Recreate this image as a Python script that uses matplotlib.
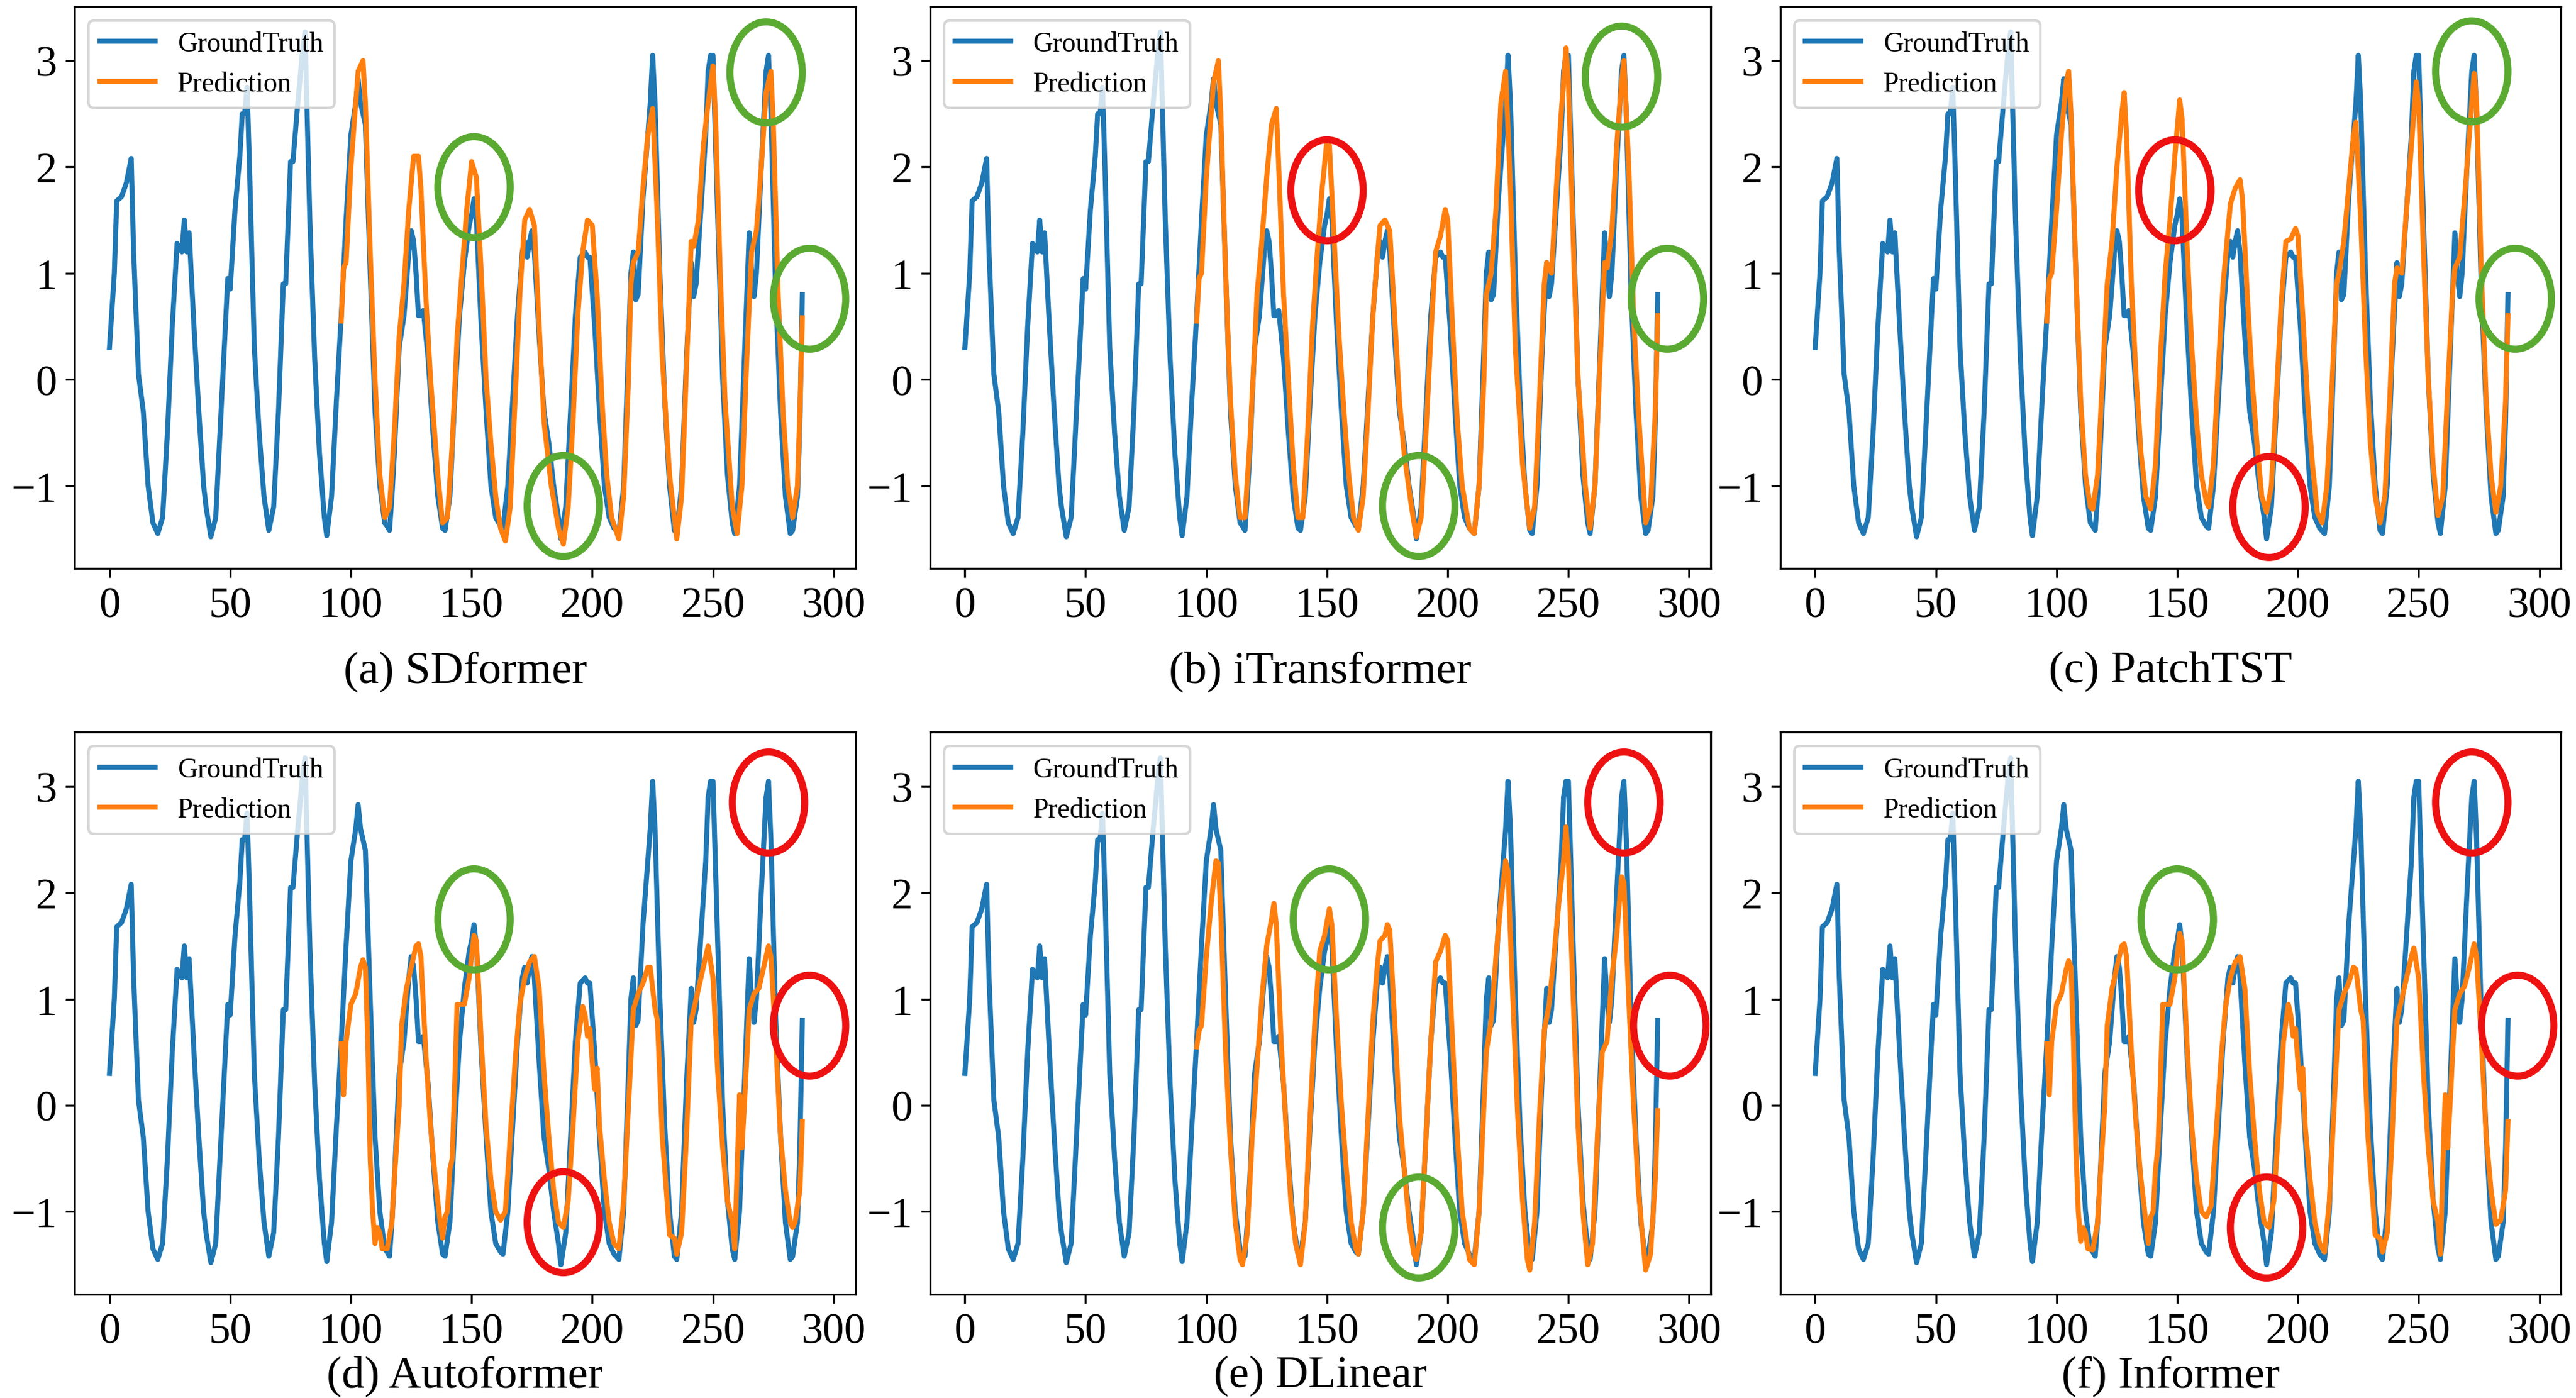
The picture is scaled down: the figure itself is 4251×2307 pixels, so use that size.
import numpy as np
import matplotlib.pyplot as plt
from matplotlib.patches import Ellipse

# 1. Series (time step, value)
gt_x = [0, 2, 3, 5, 7, 9, 10, 12, 14, 16, 18, 20, 22, 24, 26, 28, 30, 31, 32, 33, 35, 37, 39, 40, 42, 44, 46, 48, 49, 50,
        52, 54, 55, 56, 57, 58, 60, 62, 64, 66, 68, 70, 72, 73, 75, 76, 78, 80, 81, 83, 85, 87, 89, 90, 92, 94, 96, 98,
        100, 102, 103, 104, 105, 106, 108, 110, 112, 114, 115, 116, 117, 118, 120, 122, 124, 125, 126, 127, 128, 129,
        130, 132, 134, 136, 138, 139, 141, 143, 145, 147, 149, 150, 151, 152, 154, 156, 158, 160, 162, 163, 165, 167,
        169, 171, 172, 173, 174, 175, 176, 178, 180, 182, 184, 186, 187, 189, 191, 193, 195, 197, 198, 199, 201, 203,
        205, 207, 209, 211, 213, 215, 216, 217, 218, 219, 221, 223, 224, 225, 226, 228, 230, 232, 234, 235, 237, 239,
        241, 242, 243, 245, 247, 248, 249, 250, 252, 254, 256, 258, 259, 261, 263, 265, 266, 267, 268, 270, 272, 273,
        274, 276, 278, 280, 282, 283, 285, 286, 287]
gt_y = [0.3, 1.0, 1.68, 1.72, 1.85, 2.08, 1.2, 0.05, -0.3, -1.0, -1.35, -1.45, -1.3, -0.5, 0.5, 1.28, 1.2, 1.5, 1.2, 1.38,
        0.5, -0.3, -1.0, -1.2, -1.48, -1.3, -0.4, 0.5, 0.95, 0.85, 1.6, 2.1, 2.5, 2.5, 2.75, 2.0, 0.3, -0.5, -1.1, -1.42,
        -1.2, -0.3, 0.9, 0.9, 2.05, 2.05, 2.6, 3.1, 3.27, 1.5, 0.2, -0.7, -1.3, -1.47, -1.1, -0.2, 0.6, 1.5,
        2.3, 2.6, 2.83, 2.6, 2.5, 2.4, 1.0, -0.3, -1.0, -1.35, -1.38, -1.42, -1.1, -0.7, 0.3, 0.6, 1.2, 1.4, 1.3, 1.0,
        0.6, 0.6, 0.65, 0.2, -0.5, -1.1, -1.4, -1.42, -1.1, -0.2, 0.6, 1.1, 1.45, 1.55, 1.7, 1.5, 0.5, -0.3, -1.0,
        -1.3, -1.38, -1.4, -1.0, -0.2, 0.6, 1.2, 1.3, 1.15, 1.3, 1.4, 1.2, 0.4, -0.3, -0.6, -1.0, -1.3, -1.5, -1.2,
        -0.3, 0.6, 1.15, 1.2, 1.15, 1.15, 0.5, -0.3, -1.0, -1.3, -1.4, -1.45, -1.0, 0.3, 1.0, 1.2, 0.75, 0.8, 1.7,
        2.3, 2.6, 3.05, 2.6, 1.0, -0.2, -1.0, -1.42, -1.45, -1.0, 0.2, 1.1, 0.78, 0.9, 1.6, 2.3, 2.9, 3.05, 3.05, 1.5,
        0.0, -0.9, -1.35, -1.45, -1.0, 0.2, 1.38, 1.0, 0.78, 1.0, 2.0, 2.9, 3.05, 2.5, 0.8, -0.3, -1.1, -1.45, -1.42,
        -1.1, -0.4, 0.8]

sdf_x = [96, 97, 98, 100, 103, 105, 106, 108, 110, 112, 114, 116, 118, 120, 122, 124, 126, 128, 129, 131, 133, 136, 138,
         140, 142, 144, 146, 148, 150, 152, 154, 156, 158, 160, 162, 164, 166, 168, 170, 172, 174, 176, 178, 180, 183,
         186, 188, 190, 192, 194, 196, 198, 200, 202, 204, 206, 208, 211, 213, 215, 216, 217, 219, 221, 223, 225, 227,
         229, 232, 235, 237, 239, 241, 242, 244, 246, 248, 250, 251, 253, 255, 258, 260, 262, 264, 266, 268, 270, 272,
         274, 275, 277, 279, 281, 283, 285, 286, 287]
sdf_y = [0.55, 1.05, 1.1, 2.0, 2.9, 3.0, 2.6, 1.2, 0.0, -0.9, -1.3, -1.2, -0.5, 0.4, 0.9, 1.6, 2.1, 2.1, 1.8, 0.8, 0.0,
         -0.9, -1.35, -1.3, -0.6, 0.4, 1.0, 1.6, 2.05, 1.9, 1.0, 0.0, -0.6, -1.1, -1.4, -1.52, -1.2, -0.2, 0.8, 1.5, 1.6,
         1.45, 0.5, -0.4, -1.0, -1.4, -1.55, -1.2, -0.4, 0.6, 1.2, 1.5, 1.45, 0.8, -0.2, -0.9, -1.3, -1.5, -1.1, 0.0,
         0.9, 1.1, 1.2, 1.8, 2.3, 2.55, 1.5, 0.2, -0.9, -1.5, -1.1, 0.1, 1.3, 1.25, 1.5, 2.2, 2.6, 2.95, 2.5, 1.0, -0.2,
         -1.2, -1.45, -1.0, 0.2, 1.2, 1.4, 2.0, 2.7, 2.9, 2.4, 0.8, -0.3, -1.0, -1.3, -1.0, -0.3, 0.58]

itr_x = [96, 97, 98, 100, 103, 105, 106, 108, 110, 112, 114, 116, 118, 120, 121, 123, 125, 127, 129, 130, 132, 134, 136,
         138, 140, 142, 144, 146, 148, 150, 151, 153, 155, 157, 159, 161, 163, 165, 167, 169, 171, 172, 174, 176, 178,
         180, 182, 185, 187, 189, 191, 193, 195, 197, 199, 200, 202, 204, 206, 209, 211, 213, 215, 216, 218, 220, 222,
         224, 226, 228, 231, 234, 236, 238, 240, 241, 243, 245, 247, 249, 250, 252, 254, 257, 259, 261, 263, 265, 266,
         268, 270, 272, 273, 275, 277, 279, 281, 282, 284, 286, 287]
itr_y = [0.55, 0.95, 1.0, 1.9, 2.8, 3.0, 2.5, 1.0, -0.2, -0.9, -1.3, -1.3, -0.6, 0.3, 0.8, 1.3, 1.9, 2.4, 2.55, 2.0, 0.8,
         0.0, -0.8, -1.3, -1.3, -0.5, 0.5, 1.2, 1.8, 2.25, 2.2, 1.3, 0.4, -0.3, -0.9, -1.3, -1.42, -1.1, -0.3, 0.6, 1.2,
         1.45, 1.5, 1.4, 0.6, -0.2, -0.7, -1.2, -1.48, -1.3, -0.5, 0.4, 1.2, 1.35, 1.6, 1.5, 0.5, -0.4, -1.0, -1.4,
         -1.45, -1.0, 0.0, 0.8, 1.0, 1.6, 2.6, 2.9, 1.8, 0.3, -0.8, -1.4, -1.2, -0.2, 0.9, 1.1, 1.0, 1.8, 2.5, 3.12,
         2.8, 1.3, 0.0, -1.0, -1.4, -1.0, 0.1, 1.1, 1.05, 1.4, 2.2, 2.8, 3.0, 2.0, 0.6, -0.3, -1.0, -1.35, -1.2, -0.3,
         0.6]

pts_x = [96, 97, 98, 100, 102, 104, 105, 106, 108, 110, 112, 114, 115, 117, 119, 121, 123, 125, 127, 128, 129, 131, 133,
         135, 137, 139, 141, 143, 145, 147, 149, 151, 152, 154, 156, 158, 160, 162, 163, 165, 167, 169, 171, 172, 174,
         176, 177, 179, 181, 183, 185, 187, 189, 191, 193, 195, 197, 199, 200, 202, 204, 206, 208, 210, 212, 214, 216,
         217, 219, 221, 223, 224, 226, 228, 230, 232, 234, 236, 238, 240, 241, 243, 245, 247, 249, 250, 252, 254, 256,
         258, 260, 262, 264, 265, 267, 269, 271, 273, 274, 276, 278, 280, 282, 284, 286, 287]
pts_y = [0.55, 0.95, 1.0, 1.6, 2.3, 2.8, 2.9, 2.5, 1.0, -0.2, -0.9, -1.2, -1.22, -0.9, 0.0, 0.9, 1.3, 2.0, 2.5, 2.7, 2.3,
         0.9, 0.0, -0.7, -1.1, -1.22, -0.8, 0.2, 1.0, 1.5, 2.1, 2.63, 2.45, 1.3, 0.3, -0.4, -0.9, -1.15, -1.2, -0.8,
         0.1, 0.9, 1.4, 1.65, 1.8, 1.88, 1.7, 0.8, 0.0, -0.6, -1.1, -1.25, -1.0, -0.2, 0.7, 1.3, 1.32, 1.42, 1.35, 0.6,
         -0.2, -0.8, -1.25, -1.35, -1.0, -0.1, 0.9, 1.0, 1.3, 1.8, 2.3, 2.42, 1.5, 0.3, -0.6, -1.1, -1.35, -1.1, -0.2,
         0.9, 1.05, 1.0, 1.6, 2.2, 2.8, 2.6, 1.2, 0.0, -0.8, -1.28, -1.1, -0.1, 0.8, 1.05, 1.15, 1.7, 2.3, 2.88, 2.6,
         1.0, -0.2, -0.9, -1.25, -1.0, -0.2, 0.6]

auto_x = [96, 97, 98, 100, 102, 104, 105, 106, 107, 108, 109, 110, 111, 112, 113, 115, 117, 118, 120, 121, 123, 125, 127,
          128, 129, 131, 133, 135, 137, 138, 139, 140, 141, 142, 143, 144, 146, 147, 149, 151, 152, 154, 156, 158, 160,
          162, 164, 166, 168, 170, 172, 174, 176, 178, 180, 182, 184, 186, 188, 190, 192, 194, 196, 197, 198, 199, 200,
          201, 202, 203, 205, 207, 209, 211, 213, 215, 217, 219, 221, 223, 224, 226, 227, 229, 231, 232, 234, 235, 237,
          239, 241, 243, 245, 247, 248, 250, 252, 254, 256, 258, 259, 260, 261, 262, 263, 265, 267, 269, 271, 273, 274,
          276, 278, 280, 282, 283, 284, 286, 287]
auto_y = [0.58, 0.1, 0.6, 0.95, 1.05, 1.3, 1.37, 1.3, 0.6, -0.5, -1.0, -1.3, -1.15, -1.2, -1.35, -1.35, -1.1, -0.7, 0.0,
          0.75, 1.1, 1.3, 1.5, 1.52, 1.4, 0.5, -0.2, -0.7, -1.1, -1.25, -1.05, -1.0, -0.6, -0.5, 0.2, 0.95, 0.95, 0.95,
          1.2, 1.6, 1.55, 0.6, -0.2, -0.7, -1.0, -1.08, -1.0, -0.3, 0.4, 0.95, 1.2, 1.35, 1.4, 1.1, 0.3, -0.3, -0.8,
          -1.1, -1.15, -0.9, -0.2, 0.6, 0.93, 0.85, 0.65, 0.72, 0.4, 0.15, 0.35, -0.2, -0.7, -1.1, -1.3, -1.35, -0.9,
          0.0, 0.9, 1.05, 1.15, 1.3, 1.3, 0.9, 0.8, -0.3, -0.9, -1.22, -1.25, -1.4, -1.2, -0.3, 0.8, 1.0, 1.2, 1.4, 1.5,
          1.2, 0.3, -0.4, -0.9, -1.1, -1.35, -0.6, 0.1, -0.4, 0.0, 0.9, 1.05, 1.1, 1.3, 1.5, 1.4, 0.6, -0.3, -0.8, -1.1,
          -1.15, -1.1, -0.8, -0.15]

inf_x = [96, 97, 98, 100, 102, 104, 105, 106, 107, 108, 109, 110, 111, 112, 113, 115, 117, 118, 120, 121, 123, 125, 127,
         128, 129, 131, 133, 135, 137, 138, 139, 140, 141, 142, 143, 144, 146, 147, 149, 151, 152, 154, 156, 158, 160,
         162, 164, 166, 168, 170, 172, 174, 176, 178, 180, 182, 184, 186, 188, 190, 192, 194, 196, 197, 198, 199, 200,
         201, 202, 203, 205, 207, 209, 211, 213, 215, 217, 219, 221, 223, 224, 226, 227, 229, 231, 232, 234, 235, 237,
         239, 241, 243, 245, 247, 248, 250, 252, 254, 256, 258, 259, 260, 261, 262, 263, 265, 267, 269, 271, 273, 274,
         276, 278, 280, 282, 283, 284, 286, 287]
inf_y = [0.58, 0.1, 0.6, 0.95, 1.05, 1.28, 1.36, 1.3, 0.6, -0.4, -1.0, -1.28, -1.15, -1.2, -1.35, -1.36, -1.1, -0.7, 0.0,
         0.75, 1.1, 1.3, 1.5, 1.52, 1.4, 0.5, -0.2, -0.7, -1.1, -1.3, -1.05, -1.0, -0.6, -0.4, 0.2, 0.95, 0.95, 0.95,
         1.2, 1.62, 1.55, 0.6, -0.2, -0.7, -1.0, -1.05, -0.95, -0.3, 0.4, 0.93, 1.2, 1.35, 1.4, 1.1, 0.3, -0.3, -0.8,
         -1.1, -1.15, -0.9, -0.2, 0.6, 0.95, 0.85, 0.65, 0.72, 0.4, 0.15, 0.35, -0.2, -0.7, -1.1, -1.3, -1.38, -0.9,
         0.0, 0.9, 1.05, 1.15, 1.3, 1.28, 0.9, 0.8, -0.3, -0.9, -1.22, -1.25, -1.38, -1.2, -0.3, 0.8, 1.0, 1.2, 1.4, 1.48,
         1.2, 0.3, -0.4, -0.9, -1.1, -1.4, -0.6, 0.1, -0.4, 0.0, 0.9, 1.05, 1.12, 1.3, 1.52, 1.4, 0.6, -0.3, -0.8, -1.12,
         -1.1, -1.08, -0.8, -0.15]

dl_x = [96, 97, 98, 100, 102, 104, 105, 106, 108, 110, 112, 114, 115, 117, 119, 121, 123, 125, 127, 128, 129, 131, 133,
        135, 137, 139, 141, 143, 145, 147, 149, 151, 152, 154, 156, 158, 160, 162, 163, 165, 167, 169, 171, 172, 174,
        175, 176, 178, 180, 182, 184, 186, 187, 189, 191, 193, 195, 197, 199, 200, 202, 204, 206, 209, 211, 213, 215,
        216, 218, 220, 222, 224, 225, 227, 229, 231, 233, 234, 236, 238, 240, 242, 244, 246, 248, 249, 250, 252, 254,
        256, 258, 260, 262, 264, 266, 268, 270, 272, 273, 275, 277, 279, 281, 282, 284, 286, 287]
dl_y = [0.55, 0.7, 0.75, 1.4, 1.9, 2.3, 2.28, 1.8, 0.5, -0.4, -1.1, -1.45, -1.5, -1.2, -0.3, 0.35, 1.0, 1.5, 1.75, 1.9,
        1.7, 0.6, -0.2, -0.9, -1.3, -1.5, -1.1, -0.1, 0.8, 1.45, 1.6, 1.85, 1.7, 0.8, 0.0, -0.6, -1.1, -1.35, -1.4,
        -1.0, -0.1, 0.8, 1.35, 1.55, 1.6, 1.7, 1.65, 0.8, -0.1, -0.6, -1.1, -1.4, -1.45, -1.2, -0.3, 0.6, 1.35, 1.45,
        1.6, 1.55, 0.6, -0.3, -1.0, -1.45, -1.5, -1.0, 0.0, 0.5, 0.8, 1.4, 1.9, 2.3, 2.2, 1.0, -0.1, -0.9, -1.45,
        -1.55, -1.1, -0.1, 0.7, 0.95, 1.4, 1.9, 2.3, 2.62, 2.3, 1.0, -0.2, -1.0, -1.5, -1.3, -0.3, 0.5, 0.6, 1.2, 1.6,
        2.15, 2.1, 1.0, 0.0, -0.8, -1.3, -1.55, -1.4, -0.7, -0.05]

models = ['SDformer', 'iTransformer', 'PatchTST', 'Autoformer', 'DLinear', 'Informer']
pred_x = [sdf_x, itr_x, pts_x, auto_x, dl_x, inf_x]
pred_y = [sdf_y, itr_y, pts_y, auto_y, dl_y, inf_y]

# 2. Highlight ellipses: (x, y, good?) per panel
marks = [
    [(151, 1.81, True), (272, 2.89, True), (290, 0.76, True), (188, -1.19, True)],
    [(150, 1.78, False), (272, 2.85, True), (291, 0.76, True), (188, -1.19, True)],
    [(149, 1.78, False), (272, 2.9, True), (290, 0.76, True), (188, -1.2, False)],
    [(151, 1.75, True), (273, 2.85, False), (290, 0.75, False), (188, -1.1, False)],
    [(151, 1.75, True), (273, 2.85, False), (292, 0.75, False), (188, -1.15, True)],
    [(150, 1.75, True), (272, 2.85, False), (291, 0.75, False), (187, -1.15, False)],
]

# 3. Plotting
plt.rcParams['font.family'] = ['Liberation Serif', 'DejaVu Serif']
plt.rcParams['mathtext.fontset'] = 'stix'

fig = plt.figure(figsize=(14.173, 7.693), dpi=300)
lefts = [0.029, 0.361, 0.691]
bottoms = [0.593, 0.074]
caption_y = [0.512, 0.008]

for i, name in enumerate(models):
    row, col = divmod(i, 3)
    plt.axes([lefts[col], bottoms[row], 0.303, 0.402])
    plt.plot(gt_x, gt_y, color='#1f77b4', linewidth=2, label='GroundTruth')
    plt.plot(pred_x[i], pred_y[i], color='#ff7f0e', linewidth=2, label='Prediction')
    for (cx, cy, good) in marks[i]:
        plt.gca().add_patch(Ellipse((cx, cy), 30, 0.95, fill=False, linewidth=2.8,
                                    edgecolor='#5aaa32' if good else '#ee1111', clip_on=False, zorder=5))
    plt.xlim(-14.4, 309)
    plt.ylim(-1.78, 3.51)
    plt.xticks([0, 50, 100, 150, 200, 250, 300], fontsize=17)
    plt.yticks([-1, 0, 1, 2, 3], fontsize=17)
    plt.legend(loc='upper left', fontsize=11)
    plt.figtext(lefts[col] + 0.1515, caption_y[row], '(%s) %s' % ('abcdef'[i], name), ha='center', fontsize=18)

plt.savefig('out.png', dpi=300)
